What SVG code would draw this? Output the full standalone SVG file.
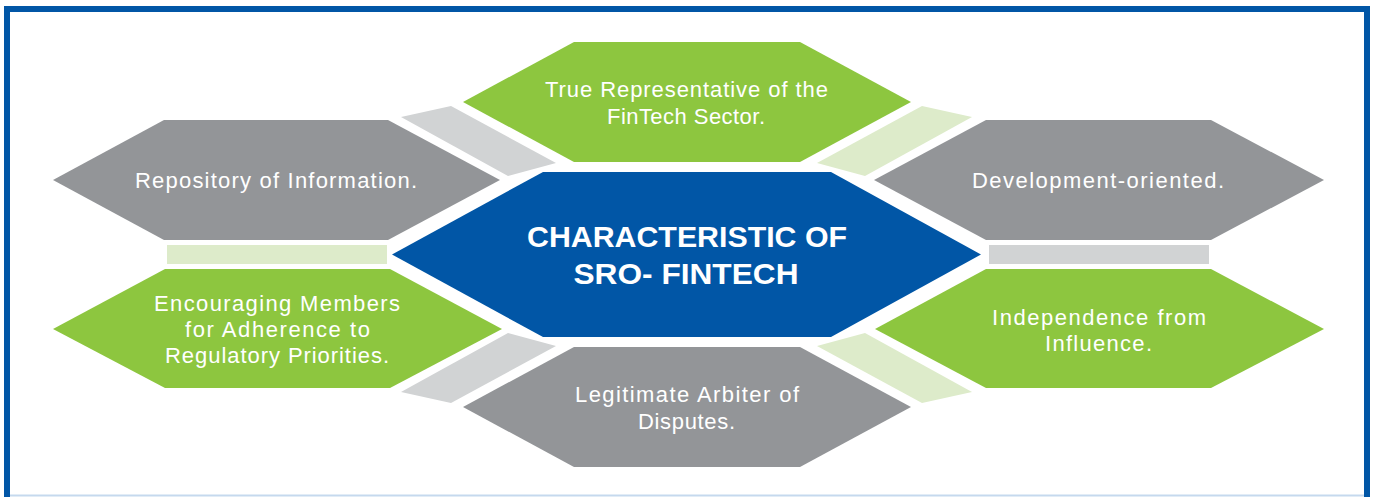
<svg xmlns="http://www.w3.org/2000/svg" width="1375" height="497" viewBox="0 0 1375 497">
<style>
.green{fill:#8dc63f}
.gray{fill:#939598}
.blue{fill:#0156a6}
.lgreen{fill:#ddebca}
.lgray{fill:#d1d3d4}
.t{font-family:"Liberation Sans","Open Sans",sans-serif;font-size:22px;fill:#ffffff;text-anchor:middle}
.tb{font-family:"Liberation Sans","DejaVu Sans",sans-serif;font-size:30px;font-weight:bold;fill:#ffffff;text-anchor:middle}
</style>
<rect width="1375" height="497" fill="#ffffff"/>
<g id="frame">
<line x1="4" y1="495.5" x2="1370" y2="495.5" stroke="#c5d9ee" stroke-width="2"/>
<path d="M7,497 V9 H1367 V497" fill="none" stroke="#0156a6" stroke-width="6"/>
</g>
<g id="connectors">
<polygon class="lgray" points="451,106 401,117 508,176 556,163"/>
<polygon class="lgreen" points="922,106 972,117 865,176 817,163"/>
<rect class="lgreen" x="167" y="245" width="220" height="19"/>
<rect class="lgray" x="989" y="245" width="220" height="19"/>
<polygon class="lgray" points="451,403 401,392 508,333 556,346"/>
<polygon class="lgreen" points="922,403 972,392 865,333 817,346"/>
</g>
<g id="center">
<polygon class="blue" points="392,254.5 543,172 831,172 981,254.5 831,337 543,337"/>
<text class="tb" x="687" y="247" textLength="320" lengthAdjust="spacingAndGlyphs">CHARACTERISTIC OF</text>
<text class="tb" x="686" y="284" textLength="225" lengthAdjust="spacingAndGlyphs">SRO- FINTECH</text>
</g>
<g id="true-representative">
<polygon class="green" points="463,102 574,42 800,42 911,102 800,162 574,162"/>
<text class="t" x="686.5" y="97" textLength="283">True Representative of the</text>
<text class="t" x="686" y="124" textLength="158">FinTech Sector.</text>
</g>
<g id="repository">
<polygon class="gray" points="53,180 164,120 388,120 500,180 388,240 164,240"/>
<text class="t" x="276" y="188" textLength="282">Repository of Information.</text>
</g>
<g id="development">
<polygon class="gray" points="874,180 986,120 1211,120 1324,180 1211,240 986,240"/>
<text class="t" x="1098" y="188" textLength="252">Development-oriented.</text>
</g>
<g id="encouraging">
<polygon class="green" points="53,329 165,269 390,269 502,329 390,388 165,388"/>
<text class="t" x="277" y="311" textLength="246">Encouraging Members</text>
<text class="t" x="277.5" y="337" textLength="185">for Adherence to</text>
<text class="t" x="277" y="363" textLength="224">Regulatory Priorities.</text>
</g>
<g id="independence">
<polygon class="green" points="875,329 986,269 1211,269 1324,329 1211,388 986,388"/>
<text class="t" x="1099" y="325" textLength="214">Independence from</text>
<text class="t" x="1098.5" y="351" textLength="107">Influence.</text>
</g>
<g id="legitimate">
<polygon class="gray" points="463,407 574,347 800,347 911,407 800,467 574,467"/>
<text class="t" x="687" y="402" textLength="224">Legitimate Arbiter of</text>
<text class="t" x="686.5" y="429" textLength="97">Disputes.</text>
</g>
</svg>
